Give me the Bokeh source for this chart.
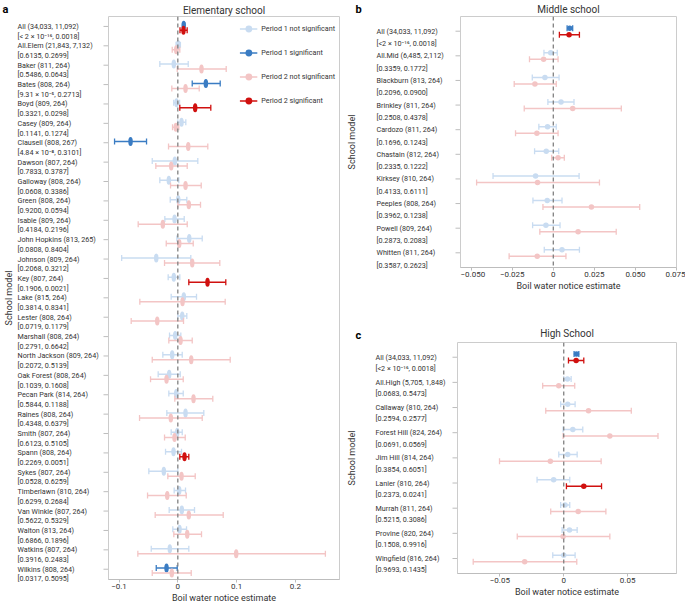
import numpy as np
from bokeh.plotting import figure
from bokeh.models import (Range1d, FixedTicker, Span, Legend, LegendItem, ColumnDataSource)
from bokeh.layouts import row, column
from bokeh.embed import file_html
from bokeh.resources import INLINE
from bokeh.core.properties import value

# ---------------- data: panel a (Elementary school) ----------------
elem_names = ["All (34,033, 11,092)", "All.Elem (21,843, 7,132)", "Baker (811, 264)",
              "Bates (808, 264)", "Boyd (809, 264)", "Casey (809, 264)",
              "Clausell (808, 267)", "Dawson (807, 264)", "Galloway (808, 264)",
              "Green (808, 264)", "Isable (809, 264)", "John Hopkins (813, 265)",
              "Johnson (809, 264)", "Key (807, 264)", "Lake (815, 264)",
              "Lester (808, 264)", "Marshall (808, 264)", "North Jackson (809, 264)",
              "Oak Forest (808, 264)", "Pecan Park (814, 264)", "Raines (808, 264)",
              "Smith (807, 264)", "Spann (808, 264)", "Sykes (807, 264)",
              "Timberlawn (810, 264)", "Van Winkle (807, 264)", "Walton (813, 264)",
              "Watkins (807, 264)", "Wilkins (808, 264)"]
elem_pstr = ["[< 2 × 10⁻¹⁶, 0.0018]", "[0.6135, 0.2699]", "[0.5486, 0.0643]",
             "[9.31 × 10⁻⁵, 0.2713]", "[0.3321, 0.0298]", "[0.1141, 0.1274]",
             "[4.84 × 10⁻⁸, 0.3101]", "[0.7833, 0.3787]", "[0.0608, 0.3386]",
             "[0.9200, 0.0594]", "[0.4184, 0.2196]", "[0.0808, 0.8404]",
             "[0.2068, 0.3212]", "[0.1906, 0.0021]", "[0.3814, 0.8341]",
             "[0.0719, 0.1179]", "[0.2791, 0.6642]", "[0.2072, 0.5139]",
             "[0.1039, 0.1608]", "[0.5844, 0.1188]", "[0.4348, 0.6379]",
             "[0.6123, 0.5105]", "[0.2269, 0.0051]", "[0.0528, 0.6259]",
             "[0.6299, 0.2684]", "[0.5622, 0.5329]", "[0.6866, 0.1896]",
             "[0.3916, 0.2483]", "[0.0317, 0.5095]"]
elem_p1 = [2e-16, 0.6135, 0.5486, 9.31e-5, 0.3321, 0.1141, 4.84e-8, 0.7833, 0.0608,
           0.9200, 0.4184, 0.0808, 0.2068, 0.1906, 0.3814, 0.0719, 0.2791, 0.2072,
           0.1039, 0.5844, 0.4348, 0.6123, 0.2269, 0.0528, 0.6299, 0.5622, 0.6866,
           0.3916, 0.0317]
elem_p2 = [0.0018, 0.2699, 0.0643, 0.2713, 0.0298, 0.1274, 0.3101, 0.3787, 0.3386,
           0.0594, 0.2196, 0.8404, 0.3212, 0.0021, 0.8341, 0.1179, 0.6642, 0.5139,
           0.1608, 0.1188, 0.6379, 0.5105, 0.0051, 0.6259, 0.2684, 0.5329, 0.1896,
           0.2483, 0.5095]
elem_e1 = [0.0100, 0.0007, -0.0068, 0.0477, -0.0022, 0.0063, -0.0804, -0.0051, -0.0153,
           0.0007, -0.0056, 0.0194, -0.0367, -0.0068, 0.0102, 0.0075, -0.0045, -0.0096,
           -0.0147, -0.0027, 0.0131, -0.0010, -0.0073, -0.0238, 0.0024, 0.0068, 0.0029,
           -0.0136, -0.0192]
elem_l1 = [0.0082, -0.0030, -0.0306, 0.0245, -0.0070, 0.0000, -0.1076, -0.0435, -0.0306,
           -0.0129, -0.0221, -0.0017, -0.0955, -0.0164, -0.0113, 0.0000, -0.0141, -0.0255,
           -0.0334, -0.0153, -0.0187, -0.0113, -0.0209, -0.0493, -0.0062, -0.0147, -0.0085,
           -0.0452, -0.0367]
elem_h1 = [0.0118, 0.0044, 0.0177, 0.0721, 0.0030, 0.0136, -0.0532, 0.0340, 0.0017,
           0.0153, 0.0109, 0.0415, 0.0221, 0.0034, 0.0318, 0.0153, 0.0051, 0.0075,
           0.0041, 0.0092, 0.0442, 0.0075, 0.0063, 0.0000, 0.0131, 0.0284, 0.0148,
           0.0187, -0.0010]
elem_e2 = [0.0096, -0.0027, 0.0403, 0.0131, 0.0295, -0.0034, 0.0177, -0.0112, 0.0131,
           0.0187, -0.0255, 0.0024, 0.0245, 0.0505, 0.0080, -0.0350, 0.0046, 0.0228,
           -0.0192, 0.0267, -0.0119, -0.0056, 0.0114, 0.0063, -0.0180, 0.0187, 0.0160,
           0.0993, -0.0102]
elem_l2 = [0.0037, -0.0095, -0.0010, -0.0102, 0.0034, -0.0090, -0.0158, -0.0374, -0.0124,
           0.0000, -0.0674, -0.0197, -0.0226, 0.0187, -0.0646, -0.0793, -0.0153, -0.0435,
           -0.0464, -0.0051, -0.0651, -0.0226, 0.0034, -0.0170, -0.0515, -0.0385, -0.0068,
           -0.0680, -0.0435]
elem_h2 = [0.0159, 0.0034, 0.0823, 0.0364, 0.0561, 0.0017, 0.0510, 0.0160, 0.0398,
           0.0386, 0.0160, 0.0262, 0.0714, 0.0816, 0.0806, 0.0097, 0.0245, 0.0891,
           0.0092, 0.0595, 0.0415, 0.0126, 0.0187, 0.0296, 0.0143, 0.0772, 0.0403,
           0.2510, 0.0228]

# ---------------- data: panel b (Middle school) ----------------
mid_names = ["All (34,033, 11,092)", "All.Mid (6,485, 2,112)", "Blackburn (813, 264)",
             "Brinkley (811, 264)", "Cardozo (811, 264)", "Chastain (812, 264)",
             "Kirksey (810, 264)", "Peeples (808, 264)", "Powell (809, 264)",
             "Whitten (811, 264)"]
mid_pstr = ["[<2 × 10⁻¹⁶, 0.0018]", "[0.3359, 0.1772]", "[0.2096, 0.0900]",
            "[0.2508, 0.4378]", "[0.1696, 0.1243]", "[0.2335, 0.1222]",
            "[0.4133, 0.6111]", "[0.3962, 0.1238]", "[0.2873, 0.2083]",
            "[0.3587, 0.2623]"]
mid_p1 = [2e-16, 0.3359, 0.2096, 0.2508, 0.1696, 0.2335, 0.4133, 0.3962, 0.2873, 0.3587]
mid_p2 = [0.0018, 0.1772, 0.0900, 0.4378, 0.1243, 0.1222, 0.6111, 0.1238, 0.2083, 0.2623]
mid_e1 = [0.0100, -0.0016, -0.0051, 0.0047, -0.0035, -0.0043, -0.0108, -0.0037, -0.0045, 0.0053]
mid_l1 = [0.0084, -0.0057, -0.0128, -0.0033, -0.0088, -0.0114, -0.0367, -0.0124, -0.0126, -0.0055]
mid_h1 = [0.0118, 0.0024, 0.0035, 0.0126, 0.0018, 0.0033, 0.0157, 0.0053, 0.0041, 0.0159]
mid_e2 = [0.0096, -0.0059, -0.0112, 0.0118, -0.0100, 0.0029, -0.0096, 0.0232, 0.0151, -0.0098]
mid_l2 = [0.0037, -0.0145, -0.0238, -0.0177, -0.0230, -0.0010, -0.0467, -0.0063, -0.0082, -0.0269]
mid_h2 = [0.0159, 0.0029, 0.0018, 0.0414, 0.0029, 0.0067, 0.0281, 0.0526, 0.0383, 0.0077]

# ---------------- data: panel c (High School) ----------------
high_names = ["All (34,033, 11,092)", "All.High (5,705, 1,848)", "Callaway (810, 264)",
              "Forest Hill (824, 264)", "Jim Hill (814, 264)", "Lanier (810, 264)",
              "Murrah (811, 264)", "Provine (820, 264)", "Wingfield (816, 264)"]
high_pstr = ["[<2 × 10⁻¹⁶, 0.0018]", "[0.0683, 0.5473]", "[0.2594, 0.2577]",
             "[0.0691, 0.0569]", "[0.3854, 0.6051]", "[0.2373, 0.0241]",
             "[0.5215, 0.3086]", "[0.1508, 0.9916]", "[0.9693, 0.1435]"]
high_p1 = [2e-16, 0.0683, 0.2594, 0.0691, 0.3854, 0.2373, 0.5215, 0.1508, 0.9693]
high_p2 = [0.0018, 0.5473, 0.2577, 0.0569, 0.6051, 0.0241, 0.3086, 0.9916, 0.1435]
high_e1 = [0.0100, 0.0029, 0.0031, 0.0071, 0.0031, -0.0079, 0.0010, 0.0045, 0.0000]
high_l1 = [0.0081, 0.0000, -0.0024, -0.0005, -0.0039, -0.0209, -0.0024, -0.0013, -0.0086]
high_h1 = [0.0118, 0.0058, 0.0089, 0.0149, 0.0105, 0.0047, 0.0047, 0.0105, 0.0089]
high_e2 = [0.0097, -0.0039, 0.0194, 0.0361, -0.0105, 0.0157, 0.0113, -0.0005, -0.0306]
high_l2 = [0.0037, -0.0165, -0.0141, -0.0005, -0.0503, 0.0021, -0.0102, -0.0364, -0.0709]
high_h2 = [0.0157, 0.0086, 0.0529, 0.0738, 0.0293, 0.0296, 0.0330, 0.0361, 0.0102]

elem_ticks = [-0.1, 0, 0.1, 0.2]
elem_tick_labels = ["−0.1", "0", "0.1", "0.2"]
mid_ticks = [-0.05, -0.025, 0, 0.025, 0.05, 0.075]
mid_tick_labels = ["−0.050", "−0.025", "0", "0.025", "0.050", "0.075"]
high_ticks = [-0.05, 0, 0.05]
high_tick_labels = ["−0.05", "0", "0.05"]

legend_labels = ["Period 1 not significant", "Period 1 significant",
                 "Period 2 not significant", "Period 2 significant"]

# ---------------- style ----------------
C_P1_NS = "#c9dcf1"
C_P1_SIG = "#3a7cc3"
C_P2_NS = "#f3c5c5"
C_P2_SIG = "#d0100f"
TXT = "#333333"
GRAY = "#bdbdbd"
FONT = "Roboto"
LABEL_EXTRA = 14   # label column extends this many px below the plot frame


def label_fig(cfg):
    """Left-hand column of two-line row labels; its frame top matches the plot frame."""
    w = cfg["lab_w"]
    ytop, ybot = cfg["yr"]
    sp = cfg["frame_h"] / (ybot - ytop)
    lf = figure(frame_width=w, frame_height=cfg["frame_h"] + LABEL_EXTRA,
                output_backend="svg", toolbar_location=None,
                x_range=Range1d(0, w),
                y_range=Range1d(ybot + LABEL_EXTRA / sp, ytop),
                x_axis_location=None, y_axis_location=None,
                min_border_left=0, min_border_right=0, min_border_bottom=0,
                min_border_top=cfg["top"])
    lf.xgrid.visible = False
    lf.ygrid.visible = False
    lf.outline_line_color = None
    # panel letter as this figure's title
    lf.title.text = cfg["letter"]
    lf.title.align = "left"
    lf.title.offset = cfg["letter_x"]
    lf.title.standoff = cfg["letter_standoff"]
    lf.title.text_font = FONT
    lf.title.text_font_size = "11px"
    lf.title.text_font_style = "bold"
    lf.title.text_color = "black"

    n = len(cfg["names"])
    idx = np.arange(n)
    src = ColumnDataSource(dict(y=list(idx) + list(idx + cfg["bracket_off"]),
                                t=list(cfg["names"]) + list(cfg["pstr"])))
    lf.text(x=cfg["label_x"], y="y", text="t", source=src,
            text_font=value(FONT), text_font_size=value("7.2px"),
            text_color=TXT, text_align="left", text_baseline="middle")
    tsrc = ColumnDataSource(dict(y=idx))
    lf.segment(x0=w - 5, x1=w, y0="y", y1="y", source=tsrc,
               line_color=GRAY, line_width=1)
    lf.text(x=[cfg["ylab_x"]], y=[(ytop + ybot) / 2], text=["School model"],
            angle=np.pi / 2, text_font=value(FONT), text_font_size=value("9px"),
            text_color=TXT, text_align="center", text_baseline="middle")
    return lf


def plot_fig(cfg):
    x0, x1 = cfg["xr"]
    ytop, ybot = cfg["yr"]
    n = len(cfg["names"])
    idx = np.arange(n)

    p = figure(frame_width=cfg["frame_w"], frame_height=cfg["frame_h"],
               output_backend="svg", toolbar_location=None,
               x_range=Range1d(x0, x1), y_range=Range1d(ybot, ytop),
               y_axis_location=None,
               min_border_left=0, min_border_right=cfg["border_r"],
               min_border_top=cfg["top"], min_border_bottom=0)
    p.xgrid.visible = False
    p.ygrid.visible = False
    p.outline_line_color = "#cccccc"
    p.outline_line_width = 1

    p.title.text = cfg["title"]
    p.title.align = "center"
    p.title.text_font = FONT
    p.title.text_font_size = "10px"
    p.title.text_font_style = "normal"
    p.title.text_color = TXT
    p.title.standoff = cfg["title_standoff"]

    xa = p.xaxis[0]
    xa.ticker = FixedTicker(ticks=cfg["ticks"])
    xa.major_label_overrides = {t: l for t, l in zip(cfg["ticks"], cfg["tick_labels"])}
    xa.minor_tick_line_color = None
    xa.major_tick_out = 3
    xa.major_tick_in = 0
    xa.major_label_standoff = 1
    xa.axis_line_color = GRAY
    xa.major_tick_line_color = GRAY
    xa.major_label_text_font = FONT
    xa.major_label_text_font_size = "8px"
    xa.major_label_text_color = TXT
    xa.axis_label = "Boil water notice estimate"
    xa.axis_label_text_font = FONT
    xa.axis_label_text_font_size = "9px"
    xa.axis_label_text_font_style = "normal"
    xa.axis_label_text_color = TXT
    xa.axis_label_standoff = 1

    p.add_layout(Span(location=0, dimension="height", line_color="#808080",
                      line_dash="4 3", line_width=1.3))

    sig1 = np.array(cfg["p1"]) < 0.05
    sig2 = np.array(cfg["p2"]) < 0.05
    groups = [
        (cfg["e1"], cfg["l1"], cfg["h1"], ~sig1, C_P1_NS, cfg["dodge"][0]),
        (cfg["e1"], cfg["l1"], cfg["h1"], sig1, C_P1_SIG, cfg["dodge"][0]),
        (cfg["e2"], cfg["l2"], cfg["h2"], ~sig2, C_P2_NS, cfg["dodge"][1]),
        (cfg["e2"], cfg["l2"], cfg["h2"], sig2, C_P2_SIG, cfg["dodge"][1]),
    ]
    legend_items = []
    for (e, lo, hi, mask, col, dodge), lab in zip(groups, legend_labels):
        e, lo, hi = np.array(e), np.array(lo), np.array(hi)
        src = ColumnDataSource(dict(x=e[mask], lo=lo[mask], hi=hi[mask],
                                    y=idx[mask] + dodge))
        seg = p.segment(x0="lo", y0="y", x1="hi", y1="y", source=src,
                        line_color=col, line_width=1.5)
        for end in ("lo", "hi"):
            p.scatter(x=end, y="y", source=src, marker="dash", angle=np.pi / 2,
                      size=6, line_color=col, line_width=1.3)
        if cfg["ellipse"]:
            p.ellipse(x="x", y="y", source=src, width=4.5, height=9,
                      width_units="screen", height_units="screen",
                      fill_color=col, line_color=None)
        else:
            p.scatter(x="x", y="y", source=src, marker="circle", size=5.5,
                      fill_color=col, line_color=None)
        proxy = p.scatter(x="x", y="y", source=src, marker="circle", size=0,
                          fill_color=col, line_color=None)
        legend_items.append(LegendItem(label=lab, renderers=[seg, proxy]))

    if cfg.get("legend"):
        leg = Legend(items=legend_items, location="top_right", border_line_color=None,
                     background_fill_alpha=0, label_text_font=FONT,
                     label_text_font_size="7.2px", label_text_color=TXT,
                     glyph_width=18, glyph_height=17, label_height=12,
                     spacing=7, padding=0, margin=4, label_standoff=4)
        p.add_layout(leg)
    return p


cfg_a = dict(names=elem_names, pstr=elem_pstr, p1=elem_p1, p2=elem_p2,
             e1=elem_e1, l1=elem_l1, h1=elem_h1, e2=elem_e2, l2=elem_l2, h2=elem_h2,
             lab_w=108, frame_w=231, frame_h=563, top=15, border_r=1,
             xr=(-0.1179, 0.275), yr=(-0.512, 28.53),
             ticks=elem_ticks, tick_labels=elem_tick_labels,
             title="Elementary school", title_standoff=2,
             letter="a", letter_x=2, letter_standoff=1, ylab_x=8, label_x=17,
             bracket_off=0.5, dodge=(-0.06, 0.2), ellipse=True, legend=True)
cfg_b = dict(names=mid_names, pstr=mid_pstr, p1=mid_p1, p2=mid_p2,
             e1=mid_e1, l1=mid_l1, h1=mid_h1, e2=mid_e2, l2=mid_l2, h2=mid_h2,
             lab_w=120, frame_w=216, frame_h=251, top=16, border_r=9,
             xr=(-0.0565, 0.075), yr=(-0.597, 9.597),
             ticks=mid_ticks, tick_labels=mid_tick_labels,
             title="Middle school", title_standoff=3,
             letter="b", letter_x=15, letter_standoff=1, ylab_x=11, label_x=36,
             bracket_off=0.5, dodge=(-0.12, 0.14), ellipse=False)
cfg_c = dict(names=high_names, pstr=high_pstr, p1=high_p1, p2=high_p2,
             e1=high_e1, l1=high_l1, h1=high_h1, e2=high_e2, l2=high_l2, h2=high_h2,
             lab_w=117, frame_w=219, frame_h=231, top=49, border_r=9,
             xr=(-0.0832, 0.0883), yr=(-0.585, 8.596),
             ticks=high_ticks, tick_labels=high_tick_labels,
             title="High School", title_standoff=7,
             letter="c", letter_x=15, letter_standoff=1, ylab_x=11, label_x=35,
             bracket_off=0.45, dodge=(-0.13, 0.13), ellipse=False)

layout = row(label_fig(cfg_a), plot_fig(cfg_a),
             column(row(label_fig(cfg_b), plot_fig(cfg_b), spacing=0),
                    row(label_fig(cfg_c), plot_fig(cfg_c), spacing=0), spacing=0),
             spacing=0)
open("out.html", "w").write(file_html(layout, INLINE))
